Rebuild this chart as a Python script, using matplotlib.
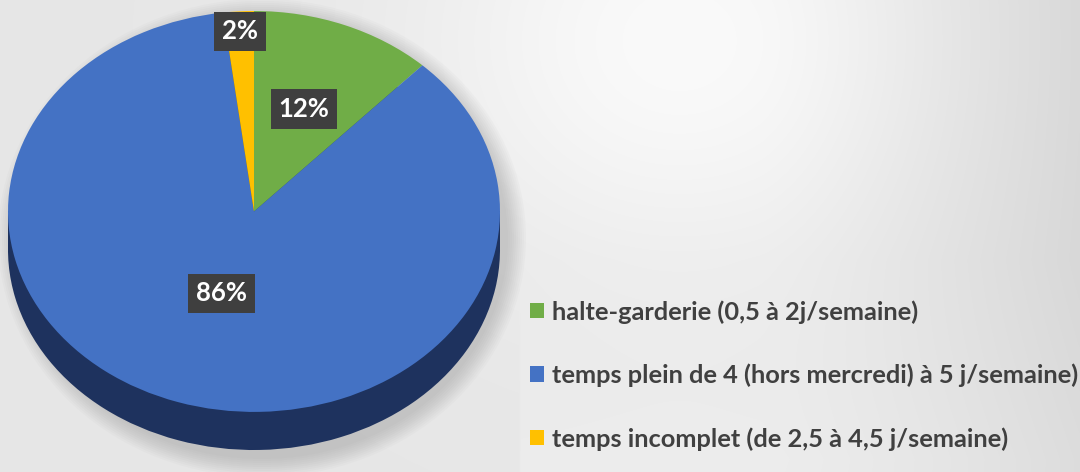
import numpy as np
import matplotlib
matplotlib.use("Agg")
import matplotlib.pyplot as plt
from matplotlib.patches import Rectangle, Ellipse, Patch

# ---- data ----
categories = ["halte-garderie (0,5 à 2j/semaine)",
              "temps plein de 4 (hors mercredi) à 5 j/semaine)",
              "temps incomplet (de 2,5 à 4,5 j/semaine)"]
values = [12, 86, 2]
pct_labels = ["12%", "86%", "2%"]

# ---- style ----
top_colors = ["#70ad47", "#4472c4", "#ffc000"]
side_colors = ["#3d6626", "#1e325e", "#8a6a00"]
label_radius = [0.55, 0.43, 0.90]
text_color = "#404040"
W, H = 1080, 472

fig = plt.figure(figsize=(W / 100, H / 100), dpi=100)

# background gradient
bg = fig.add_axes([0, 0, 1, 1])
xx, yy = np.meshgrid(np.linspace(0, W, 540), np.linspace(0, H, 236))
v = 0.905 + 0.075 * np.exp(-((xx - 680) / 260) ** 2 - ((yy - 40) / 230) ** 2)
v -= 0.06 * np.clip((xx - 760) / 320, 0, 1) ** 1.5
v += 0.02 * np.clip((yy - 260) / 200, 0, 1) * (xx > 520)
v = np.clip(v, 0, 1)
bg.imshow(np.dstack([v, v, v]), extent=[0, W, H, 0], aspect="auto", interpolation="bilinear")
bg.set_xlim(0, W)
bg.set_ylim(H, 0)
bg.axis("off")

# soft shadow under the pie (pixel coordinates)
for k in range(10):
    bg.add_patch(Ellipse((262, 238), 492 + 4 * k, 442 + 4 * k, facecolor="#7a7a7a",
                         alpha=0.035, linewidth=0, zorder=2))

# pie axes: top face ellipse x 8..500, y 11..412 ; depth to 450
left, right, top, bottom = 8, 500, 11, 450
ax = fig.add_axes([left / W, (H - bottom) / H, (right - left) / W, (bottom - top) / H])
depth = 0.19

# side of the 3D pie
ax.pie(values, colors=side_colors, startangle=90, counterclock=False,
       center=(0, -depth), wedgeprops=dict(linewidth=0))
ax.add_patch(Rectangle((-1, -depth), 2, depth, facecolor=side_colors[1], linewidth=0))
# top face
wedges, _ = ax.pie(values, colors=top_colors, startangle=90, counterclock=False,
                   wedgeprops=dict(linewidth=0))
ax.set_aspect("auto")
ax.set_xlim(-1, 1)
ax.set_ylim(-1 - depth, 1)
ax.axis("off")

# data labels
cum = np.cumsum([0] + values[:-1])
total = float(sum(values))
for v_, c, lab, r in zip(values, cum, pct_labels, label_radius):
    mid = (c + v_ / 2) / total
    ang = np.deg2rad(90 - mid * 360)
    ax.text(r * np.cos(ang), r * np.sin(ang), lab, ha="center", va="center",
            color="white", fontsize=18.5, fontweight="bold", family="Lato",
            bbox=dict(boxstyle="square,pad=0.3", facecolor="#3f3f3f", edgecolor="none"),
            zorder=10)

# legend
handles = [Patch(facecolor=c, edgecolor="none") for c in top_colors]
leg = fig.legend(handles, categories, loc="upper left",
                 bbox_to_anchor=(530 / W, 1 - 300 / H), frameon=False,
                 handlelength=0.55, handleheight=0.55, handletextpad=0.3,
                 labelspacing=1.57, borderpad=0, borderaxespad=0,
                 prop=dict(family="Lato", weight="bold", size=18.3))
for t in leg.get_texts():
    t.set_color(text_color)

fig.savefig("out.png", dpi=100)
